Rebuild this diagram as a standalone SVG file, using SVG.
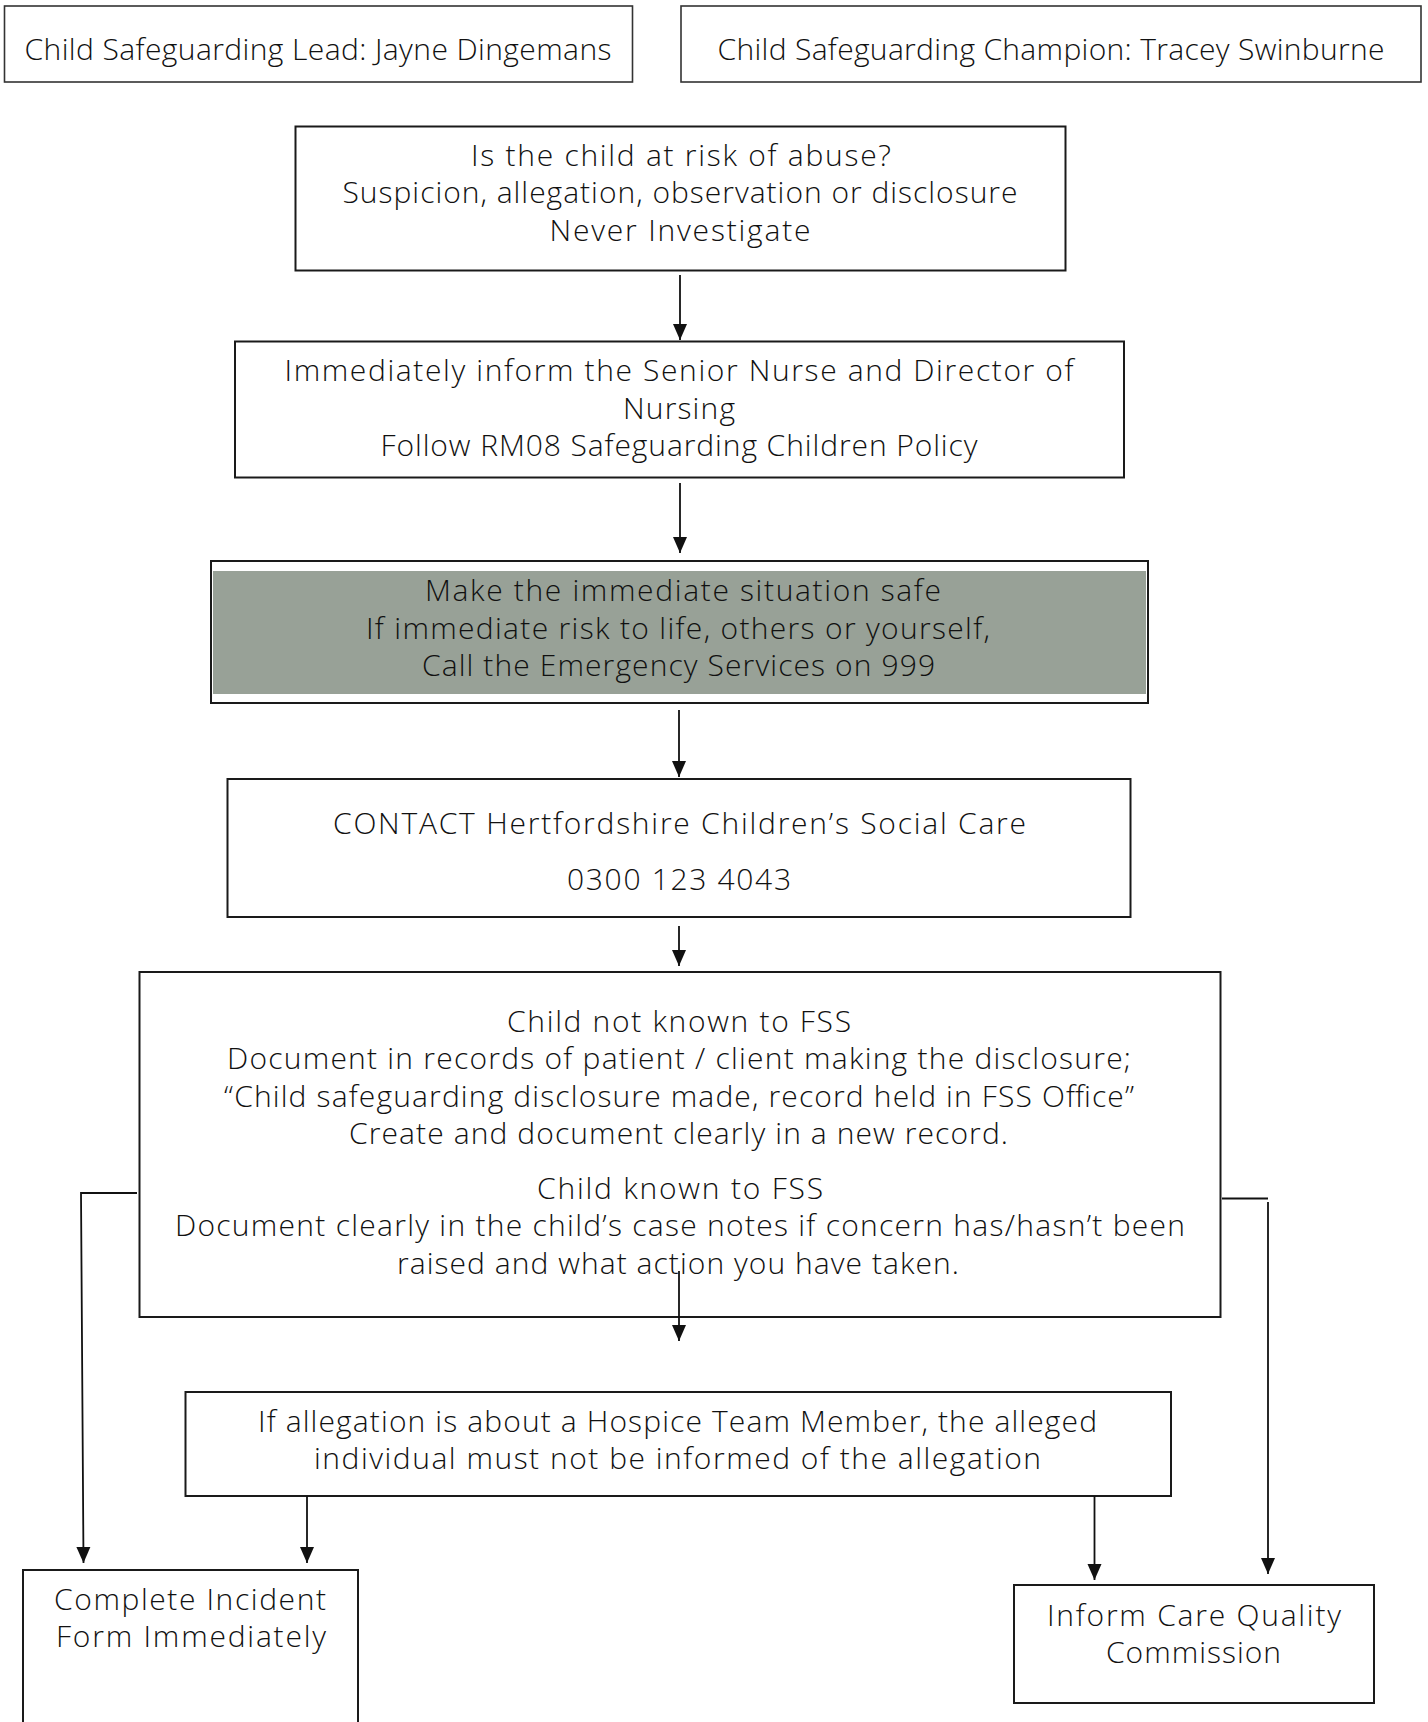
<svg xmlns="http://www.w3.org/2000/svg" width="1428" height="1722" viewBox="0 0 1428 1722">
<defs>
<style>
.box{fill:#fff;stroke:#1a1a1a;stroke-width:2}
.hd{fill:#fff;stroke:#333;stroke-width:1.6}
.t{font-family:"Open Sans","Liberation Sans",Arial,sans-serif;font-weight:300;font-size:30px;fill:#111;text-anchor:middle}
.ln{fill:none;stroke:#111;stroke-width:1.8}
</style>
<marker id="ah" viewBox="0 0 16 16" refX="16" refY="8" markerWidth="16" markerHeight="16" markerUnits="userSpaceOnUse" orient="auto">
<path d="M0,1 L16,8 L0,15 Z" fill="#111"/>
</marker>
</defs>
<rect width="1428" height="1722" fill="#fff"/>

<g id="lead">
<rect class="hd" x="4.5" y="6" width="628" height="76"/>
<text class="t" x="318" y="60" textLength="587">Child Safeguarding Lead: Jayne Dingemans</text>
</g>
<g id="champion">
<rect class="hd" x="681" y="6" width="740" height="76"/>
<text class="t" x="1051" y="60" textLength="667">Child Safeguarding Champion: Tracey Swinburne</text>
</g>

<g id="risk">
<rect class="box" x="295.5" y="126.5" width="770" height="144"/>
<text class="t" x="681" y="166" textLength="420">Is the child at risk of abuse?</text>
<text class="t" x="680" y="203" textLength="675">Suspicion, allegation, observation or disclosure</text>
<text class="t" x="680" y="241" textLength="261">Never Investigate</text>
</g>

<g id="inform">
<rect class="box" x="235" y="341.5" width="889" height="136"/>
<text class="t" x="679" y="381" textLength="789">Immediately inform the Senior Nurse and Director of</text>
<text class="t" x="679" y="419" textLength="112">Nursing</text>
<text class="t" x="679" y="456" textLength="597">Follow RM08 Safeguarding Children Policy</text>
</g>

<g id="safe">
<rect class="box" x="211" y="561" width="937" height="142"/>
<rect x="213" y="571" width="933" height="123" fill="#98a197"/>
<text class="t" x="683" y="601" textLength="516">Make the immediate situation safe</text>
<text class="t" x="678" y="639" textLength="624">If immediate risk to life, others or yourself,</text>
<text class="t" x="678.5" y="676" textLength="513">Call the Emergency Services on 999</text>
</g>

<g id="contact">
<rect class="box" x="227.5" y="779" width="903" height="138"/>
<text class="t" x="679.5" y="834" textLength="693">CONTACT Hertfordshire Children’s Social Care</text>
<text class="t" x="679" y="890" textLength="224">0300 123 4043</text>
</g>

<g id="document">
<rect class="box" x="139.5" y="972" width="1081" height="345"/>
<text class="t" x="679" y="1032" textLength="344">Child not known to FSS</text>
<text class="t" x="679" y="1069" textLength="904">Document in records of patient / client making the disclosure;</text>
<text class="t" x="679" y="1107" textLength="910">“Child safeguarding disclosure made, record held in FSS Office”</text>
<text class="t" x="678.5" y="1144" textLength="659">Create and document clearly in a new record.</text>
<text class="t" x="680" y="1199" textLength="286">Child known to FSS</text>
<text class="t" x="680" y="1236" textLength="1010">Document clearly in the child’s case notes if concern has/hasn’t been</text>
<text class="t" x="678" y="1274" textLength="562">raised and what action you have taken.</text>
</g>

<g id="allegation">
<rect class="box" x="185.5" y="1392" width="985.5" height="104"/>
<text class="t" x="677.5" y="1432" textLength="839">If allegation is about a Hospice Team Member, the alleged</text>
<text class="t" x="677.5" y="1469" textLength="727">individual must not be informed of the allegation</text>
</g>

<g id="incident">
<rect class="box" x="23" y="1570" width="335" height="170"/>
<text class="t" x="190" y="1610" textLength="272">Complete Incident</text>
<text class="t" x="191" y="1647" textLength="270">Form Immediately</text>
</g>

<g id="cqc">
<rect class="box" x="1014" y="1585" width="360" height="118"/>
<text class="t" x="1194" y="1626" textLength="294">Inform Care Quality</text>
<text class="t" x="1193.5" y="1663" textLength="175">Commission</text>
</g>

<g id="connectors">
<path class="ln" d="M680,275 V340" marker-end="url(#ah)"/>
<path class="ln" d="M680,483 V553" marker-end="url(#ah)"/>
<path class="ln" d="M679,710 V777" marker-end="url(#ah)"/>
<path class="ln" d="M679,926 V966" marker-end="url(#ah)"/>
<path class="ln" d="M679,1271 V1341" marker-end="url(#ah)"/>
<path class="ln" d="M137,1193 H81 L83.5,1563" marker-end="url(#ah)"/>
<path class="ln" d="M307,1496 V1563" marker-end="url(#ah)"/>
<path class="ln" d="M1222,1198.5 H1268"/>
<path class="ln" d="M1268,1202 V1574" marker-end="url(#ah)"/>
<path class="ln" d="M1094.5,1496 V1580" marker-end="url(#ah)"/>
</g>
</svg>
